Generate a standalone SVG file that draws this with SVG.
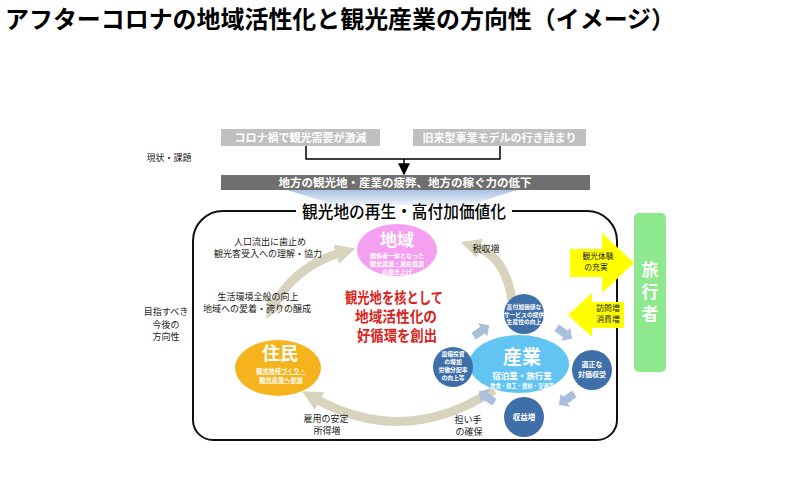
<svg xmlns="http://www.w3.org/2000/svg" width="798" height="500" viewBox="0 0 798 500">
<defs>
<style>
text{font-family:"Noto Sans CJK JP","Noto Sans CJK SC",sans-serif;}
.t{font-weight:bold;fill:#000;}
.lb{font-size:9px;fill:#222;text-anchor:middle;}
.wb{fill:#fff;font-weight:bold;text-anchor:middle;}
.blue{fill:#3f6fa9;}
.chev{fill:#a9bfdc;}
.ring{fill:none;stroke:#d8d3bd;stroke-width:9;}
.yel{fill:#ffff00;}
.yt{font-size:7.8px;fill:#222;text-anchor:middle;}
.red{fill:#d9231c;font-weight:bold;font-size:15px;text-anchor:middle;}
.head{font-size:17px;fill:#000;font-weight:500;text-anchor:middle;}
</style>
<marker id="ah" viewBox="0 0 10 10" refX="9" refY="5" markerWidth="8" markerHeight="8" orient="auto-start-reverse">
<path d="M0,0 L10,5 L0,10 z" fill="#000"/>
</marker>
<marker id="tan" viewBox="0 0 10 10" refX="2" refY="5" markerUnits="userSpaceOnUse" markerWidth="20" markerHeight="22" orient="auto-start-reverse">
<path d="M0,0 L10,5 L0,10 z" fill="#d8d3bd"/>
</marker>
<linearGradient id="fun" x1="0" y1="0" x2="0" y2="1">
<stop offset="0" stop-color="#a9c2e4"/>
<stop offset="1" stop-color="#b4c8e4" stop-opacity="0.25"/>
</linearGradient>
<polygon id="chv" points="-9,-4 2,-4 2,-8 10,0 2,8 2,4 -9,4"/>
</defs>
<rect width="798" height="500" fill="#fff"/>

<text class="t" x="5" y="28" font-size="24" textLength="670" lengthAdjust="spacingAndGlyphs">アフターコロナの地域活性化と観光産業の方向性（イメージ）</text>

<g id="label-genjo"><text class="lb" x="169" y="161" font-size="10">現状・課題</text></g>
<g id="label-mezasu">
<text class="lb" x="166" y="315">目指すべき</text>
<text class="lb" x="166" y="327.5">今後の</text>
<text class="lb" x="166" y="340">方向性</text>
</g>

<g id="box-corona"><rect x="221" y="129" width="159" height="17" fill="#c0c0c0"/><text class="wb" x="300.5" y="141.5" font-size="11">コロナ禍で観光需要が激減</text></g>
<g id="box-kyurai"><rect x="413" y="129" width="173" height="17" fill="#c0c0c0"/><text class="wb" x="499.5" y="141.5" font-size="11">旧来型事業モデルの行き詰まり</text></g>

<g id="connectors">
<path d="M306,146 V159 H500 V146" fill="none" stroke="#000" stroke-width="1.5"/>
<path d="M404,159 V174" fill="none" stroke="#000" stroke-width="1.5" marker-end="url(#ah)"/>
</g>

<g id="bar-hihei"><rect x="221" y="175" width="369" height="15" fill="#6f6f6f"/><text class="wb" x="405" y="186.5" font-size="11.5">地方の観光地・産業の疲弊、地方の稼ぐ力の低下</text></g>
<polygon points="287,190 517,190 470,205 335,205" fill="url(#fun)"/>

<g id="frame">
<path d="M296,211 H223 A30,30 0 0 0 193,241 V420 A20,20 0 0 0 213,440 H597 A20,20 0 0 0 617,420 V241 A30,30 0 0 0 587,211 H512" fill="none" stroke="#111" stroke-width="2"/>
<text class="head" x="404" y="218" textLength="204" lengthAdjust="spacingAndGlyphs">観光地の再生・高付加価値化</text>
</g>

<g id="ring">
<path class="ring" d="M340,253 Q296,266 274,305" marker-start="url(#tan)" marker-end="url(#tan)"/>
<path class="ring" d="M512,300 Q505,256 476,247" marker-end="url(#tan)"/>
<path class="ring" d="M494,390 Q405,448 316,399" marker-end="url(#tan)"/>
</g>

<g id="labels">
<text class="lb" x="270" y="244.5">人口流出に歯止め</text>
<text class="lb" x="268" y="257">観光客受入への理解・協力</text>
<text class="lb" x="258" y="299.5">生活環境全般の向上</text>
<text class="lb" x="257" y="312">地域への愛着・誇りの醸成</text>
<text class="lb" x="486" y="252">税収増</text>
<text class="lb" x="326" y="421.5">雇用の安定</text>
<text class="lb" x="327" y="434">所得増</text>
<text class="lb" x="468" y="422.5">担い手</text>
<text class="lb" x="469" y="435">の確保</text>
</g>

<g id="node-chiiki">
<ellipse cx="397" cy="250" rx="40" ry="26" fill="#f59ff0"/>
<text class="wb" x="397" y="246" font-size="17">地域</text>
<text class="wb" x="397" y="257.5" font-size="6">関係者一体となった</text>
<text class="wb" x="397" y="265.5" font-size="6" text-decoration="underline">観光資源・潜在資源</text>
<text class="wb" x="397" y="273.5" font-size="6">の磨き上げ</text>
</g>

<g id="node-jumin">
<ellipse cx="278" cy="368" rx="43" ry="28" fill="#f5b41e"/>
<text class="wb" x="280" y="360" font-size="18">住民</text>
<text class="wb" x="281" y="373" font-size="6.2" text-decoration="underline">観光地域づくり・</text>
<text class="wb" x="281" y="382" font-size="6.2" text-decoration="underline">観光産業へ参加</text>
</g>

<g id="red-center">
<text class="red" x="394" y="303" textLength="98" lengthAdjust="spacingAndGlyphs">観光地を核として</text>
<text class="red" x="396" y="322" textLength="82" lengthAdjust="spacingAndGlyphs">地域活性化の</text>
<text class="red" x="397" y="341" textLength="80" lengthAdjust="spacingAndGlyphs">好循環を創出</text>
</g>

<g id="node-sangyo">
<ellipse cx="519" cy="364" rx="50" ry="29" fill="#62c4f2"/>
<text class="wb" x="522" y="364" font-size="19">産業</text>
<text class="wb" x="522" y="378.5" font-size="8.5">宿泊業・旅行業</text>
<text class="wb" x="522" y="388" font-size="5.3">飲食・商工・農林・交通等</text>
</g>

<g id="node-kofuka">
<circle class="blue" cx="524" cy="314" r="20"/>
<text class="wb" x="524" y="309" font-size="5.8">高付加価値な</text>
<text class="wb" x="524" y="316.5" font-size="5.8">サービスの提供</text>
<text class="wb" x="524" y="324" font-size="5.8">生産性の向上</text>
</g>
<g id="node-setsubi">
<circle class="blue" cx="453" cy="367" r="20"/>
<text class="wb" x="453" y="356" font-size="5.8">設備投資</text>
<text class="wb" x="453" y="364" font-size="5.8">の増加</text>
<text class="wb" x="453" y="372" font-size="5.8">労働分配率</text>
<text class="wb" x="453" y="380" font-size="5.8">の向上等</text>
</g>
<g id="node-tekisei">
<circle class="blue" cx="592" cy="370" r="20"/>
<text class="wb" x="592" y="367" font-size="7">適正な</text>
<text class="wb" x="592" y="377" font-size="7">対価収受</text>
</g>
<g id="node-shueki">
<circle class="blue" cx="524" cy="417" r="20"/>
<text class="wb" x="524" y="420" font-size="7.5">収益増</text>
</g>

<g id="chevrons">
<use href="#chv" class="chev" transform="translate(481,331) rotate(-35)"/>
<use href="#chv" class="chev" transform="translate(564,333) rotate(35)"/>
<use href="#chv" class="chev" transform="translate(567,399) rotate(145)"/>
<use href="#chv" class="chev" transform="translate(487,397) rotate(-145)"/>
</g>

<g id="arrow-taiken">
<polygon class="yel" points="570,249 602,249 602,233 634,263 602,293 602,277 570,277"/>
<text class="yt" x="598" y="259">観光体験</text>
<text class="yt" x="596" y="270">の充実</text>
</g>
<g id="arrow-homon">
<polygon class="yel" points="624,302 592,302 592,293 568,315 592,337 592,328 624,328"/>
<text class="yt" x="608" y="310.5">訪問増</text>
<text class="yt" x="608" y="322">消費増</text>
</g>

<g id="node-ryokosha">
<rect x="634" y="213" width="32" height="159" rx="5" fill="#8ee88e"/>
<text class="wb" x="650" y="294" font-size="17" writing-mode="vertical-rl" letter-spacing="5">旅行者</text>
</g>
</svg>
